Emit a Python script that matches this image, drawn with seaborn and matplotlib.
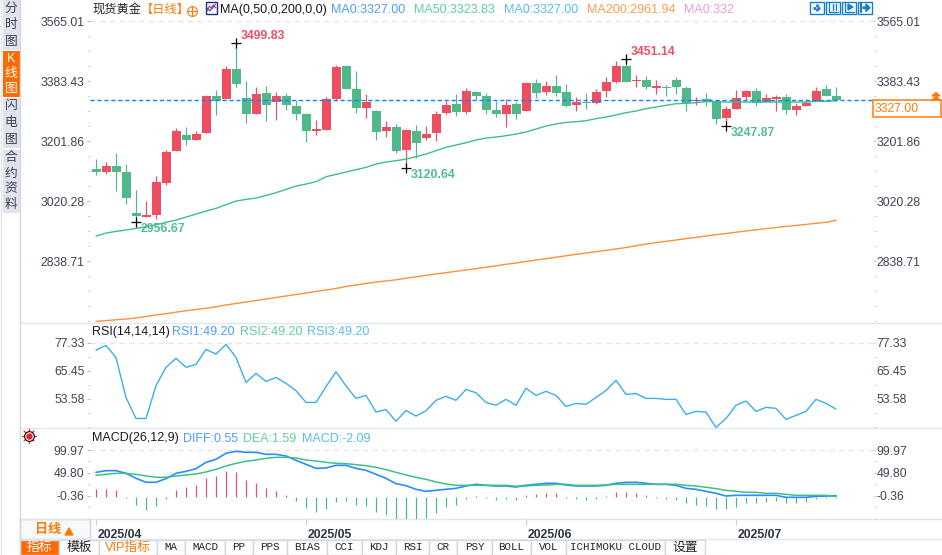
import numpy as np
import matplotlib
matplotlib.use("Agg")
import matplotlib.pyplot as plt
from matplotlib.patches import Rectangle, Polygon
from matplotlib.transforms import ScaledTranslation
import seaborn as sns

# ---------- data ----------
candle_top = [3117.0,3126.1,3126.1,3108.0,2983.8,2977.8,3077.7,3168.5,3232.1,3220.0,3223.0,3338.0,3338.0,3419.7,3419.7,3332.0,3344.1,3347.1,3338.0,3338.0,3307.7,3283.5,3238.1,
              3328.9,3425.8,3428.8,3359.2,3319.8,3292.6,3244.2,3244.2,3235.1,3232.1,3223.0,3283.5,3310.8,3313.8,3353.1,3350.1,3338.0,3295.6,3310.8,3313.8,3377.4,3377.4,3368.3,3368.3,3350.1,3319.8,3319.8,3350.1,3380.4,3428.8,3428.8,
              3386.4,3386.4,3368.3,3366.3,3386.4,3362.2,3325.9,3328.9,3322.9,3298.7,3332.0,3353.1,3353.1,3332.0,3335.0,3335.0,3307.7,3316.8,3353.1,3359.2,3338.0]
candle_bottom = [3109.0,3108.0,3108.0,3029.3,2974.8,2971.7,2977.8,3074.7,3171.5,3204.8,3204.8,3226.0,3322.9,3328.9,3374.3,3283.5,3283.5,3310.8,3319.8,3310.8,3283.5,3232.1,3232.1,
                 3235.1,3328.9,3359.2,3301.7,3301.7,3229.0,3232.1,3171.5,3174.6,3195.7,3210.9,3226.0,3286.5,3289.6,3289.6,3338.0,3295.6,3283.5,3283.5,3283.5,3292.6,3347.1,3350.1,3347.1,3307.7,3310.8,3316.8,3316.8,3353.1,3380.4,3380.4,
                 3383.4,3365.3,3362.2,3363.2,3365.3,3316.8,3322.9,3322.9,3268.4,3271.4,3298.7,3335.0,3316.8,3319.8,3328.9,3295.6,3295.6,3307.7,3322.9,3338.0,3327.0]
candle_high = [3147.3,3137.2,3165.5,3132.2,3053.5,3020.2,3095.8,3174.6,3241.1,3244.2,3232.1,3341.0,3356.2,3428.8,3499.83,3383.4,3365.3,3368.3,3350.1,3347.1,3325.9,3286.5,3265.4,
               3335.0,3431.8,3431.8,3413.7,3344.1,3295.6,3262.3,3253.3,3238.1,3250.2,3247.2,3292.6,3322.9,3344.1,3362.2,3353.1,3347.1,3322.9,3328.9,3319.8,3380.4,3389.5,3383.4,3401.6,3374.3,3335.0,3347.1,3359.2,3395.5,3444.0,3451.14,
               3401.6,3398.5,3386.4,3371.3,3395.5,3368.3,3335.0,3347.1,3325.9,3307.7,3356.2,3356.2,3362.2,3344.1,3341.0,3344.1,3316.8,3328.9,3365.3,3371.3,3365.3]
candle_low = [3098.9,3102.9,3050.4,3011.1,2956.67,2971.7,2965.7,3068.6,3171.5,3189.7,3204.8,3226.0,3280.5,3328.9,3365.3,3256.3,3283.5,3262.3,3265.4,3295.6,3265.4,3198.8,3220.0,
              3235.1,3322.9,3359.2,3286.5,3271.4,3204.8,3213.9,3165.5,3120.64,3150.3,3204.8,3201.8,3283.5,3277.5,3283.5,3325.9,3283.5,3274.4,3244.2,3268.4,3292.6,3332.0,3341.0,3338.0,3304.7,3292.6,3298.7,3313.8,3335.0,3377.4,3380.4,
              3365.3,3359.2,3344.1,3338.0,3344.1,3292.6,3310.8,3307.7,3253.3,3247.87,3298.7,3325.9,3307.7,3319.8,3292.6,3283.5,3280.5,3307.7,3322.9,3338.0,3322.9]
candle_rising = [0,1,0,0,0,1,1,1,1,0,1,1,0,1,0,0,1,0,1,0,0,0,1,
                 1,1,0,0,1,0,1,0,1,0,1,1,1,0,1,0,0,0,1,0,1,0,1,0,0,1,0,1,1,1,0,
                 1,0,1,0,0,0,1,0,0,1,1,1,0,1,1,0,1,1,1,0,0]
ma50 = [2914.2,2923.3,2928.4,2932.4,2937.4,2942.5,2948.5,2955.6,2962.7,2971.7,2980.8,2989.9,2998.0,3009.1,3020.2,3025.2,3029.3,3037.3,3045.4,3055.5,3065.6,3071.6,3078.7,
        3093.8,3100.9,3108.0,3115.0,3122.1,3132.2,3138.2,3142.3,3147.3,3154.4,3162.4,3172.5,3182.6,3189.7,3196.7,3204.8,3210.9,3213.9,3217.9,3223.0,3229.0,3238.1,3247.2,3253.3,3258.3,3260.3,3263.3,3269.4,3274.4,3280.5,3287.6,
        3292.6,3299.7,3304.7,3309.8,3314.8,3315.8,3317.8,3320.9,3320.9,3319.8,3319.8,3319.8,3319.8,3319.8,3319.8,3319.8,3319.8,3319.8,3321.9,3321.9,3323.83]
ma200 = [2656.3,2658.4,2660.9,2663.3,2666.3,2670.9,2675.4,2679.3,2683.9,2688.4,2692.0,2695.7,2700.2,2705.7,2710.2,2714.7,2719.2,2723.8,2728.3,2732.9,2737.4,2742.0,2746.5,2751.0,2755.6,2761.6,2766.2,2770.7,2775.2,2778.3,
         2781.9,2786.7,2790.9,2795.5,2799.4,2803.4,2807.6,2811.5,2815.8,2820.0,2824.2,2828.8,2832.7,2837.3,2841.8,2845.8,2850.3,2854.5,2859.0,2863.0,2866.9,2871.1,2875.1,2879.6,2885.1,2890.2,2894.2,2898.4,2902.3,2906.5,2910.5,2914.4,
         2918.4,2922.0,2925.9,2929.6,2933.2,2936.8,2940.1,2943.4,2946.5,2949.5,2952.9,2955.9,2961.94]
rsi = [74.1,76.2,71.0,54.1,45.2,45.2,59.1,66.9,70.7,66.9,68.1,74.5,72.5,76.6,71.1,60.5,64.3,60.9,62.6,60.1,57.0,52.0,52.0,
       58.7,65.0,59.0,53.7,55.0,47.9,49.0,44.0,48.6,46.2,48.5,52.9,54.6,52.9,57.5,56.1,52.0,50.8,53.3,50.8,58.0,55.0,56.7,55.0,50.3,51.6,51.2,54.1,57.1,61.4,55.4,
       55.8,53.7,53.7,53.3,53.3,46.9,48.2,47.9,41.4,45.2,50.8,52.6,48.2,49.9,49.5,44.8,46.5,48.2,53.3,51.6,49.2]
diff = [50.9,54.6,54.6,48.7,37.8,29.0,29.0,37.0,48.7,53.1,59.0,72.9,79.5,92.7,97.1,94.9,94.9,90.5,90.5,86.8,77.3,68.5,59.7,
        60.5,66.3,66.3,59.7,55.3,46.6,37.8,26.0,21.6,13.6,9.2,11.4,13.6,15.8,20.9,24.6,22.4,20.9,20.9,18.7,22.4,24.6,26.8,26.8,23.1,20.9,20.9,20.9,22.4,26.8,29.0,
        29.0,26.8,24.6,24.6,22.4,15.8,13.6,9.2,4.8,-1.1,0.4,0.4,0.4,0.4,0.4,-4.0,-4.0,-4.0,-1.8,-1.1,-0.4]
dea = [44.4,46.6,48.7,48.7,46.6,42.9,40.0,40.0,42.9,45.1,47.3,51.7,57.5,64.9,70.7,75.1,78.0,81.7,83.9,83.9,82.4,78.0,75.8,
       72.9,70.7,70.0,67.8,65.6,61.9,56.8,50.9,45.1,40.0,35.6,29.7,25.3,22.4,22.4,22.4,22.4,22.4,22.4,20.2,20.9,22.4,23.1,24.6,24.6,22.4,22.4,22.4,23.1,24.6,24.6,
       24.6,24.6,24.6,24.6,24.6,22.4,20.9,18.0,15.1,11.4,9.2,7.0,7.0,4.8,4.8,2.6,0.4,0.4,0.4,0.4,-1.8]
hist = [17.6,17.6,15.4,-1.5,-17.6,-28.6,-19.8,-4.4,15.4,22.0,26.4,41.7,46.1,57.1,54.9,37.3,30.8,19.8,13.2,4.4,-8.8,-24.2,-33.0,
        -26.4,-11.0,-8.8,-17.6,-19.8,-33.0,-39.5,-48.3,-48.3,-48.3,-46.1,-35.2,-22.0,-17.6,-4.4,2.2,-2.2,-6.6,-4.4,-6.6,4.4,6.6,8.8,8.8,-2.2,-4.4,-6.6,-4.4,2.2,11.0,11.0,
        8.8,4.4,-2.2,-4.4,-6.6,-13.2,-17.6,-19.8,-26.4,-26.4,-22.0,-13.2,-13.2,-11.0,-8.8,-13.2,-13.2,-11.0,-4.4,-2.2,-2.09]
main_ticks = [3565.01,3383.43,3201.86,3020.28,2838.71]
rsi_ticks = [77.33,65.45,53.58]
macd_ticks = [99.97,49.80,-0.36]
date_pos = [0,21,43,64]
date_labels = ["2025/04","2025/05","2025/06","2025/07"]
last_price = 3327.00
extremes = [(14,3499.83,"3499.83","r",1),(53,3451.14,"3451.14","r",1),(4,2956.67,"2956.67","g",-1),(31,3120.64,"3120.64","g",-1),(63,3247.87,"3247.87","g",-1)]
tabs = [("指标",20,59),("模板",59,99),("VIP指标",99,157),("MA",157,185),("MACD",185,225),("PP",225,253),("PPS",253,287),("BIAS",287,327),("CCI",327,362),("KDJ",362,396),("RSI",396,429),("CR",429,457),("PSY",457,492),("BOLL",492,531),("VOL",531,566),("ICHIMOKU CLOUD",566,665),("设置",665,705)]

# ---------- style ----------
sns.set_theme(style="white")
SANS = ["Liberation Sans", "Noto Sans CJK SC", "DejaVu Sans"]
plt.rcParams["font.family"] = SANS
RED, GREEN = "#ee4f60", "#4fb98a"
ORANGE = "#ff7a0a"
INK = "#3d4354"
W, H = 942, 555
idx = np.arange(len(ma50))
fig = plt.figure(figsize=(W/100, H/100), dpi=100, facecolor="white")

def place(top, bottom, left=90, right=874):
    return fig.add_axes([left/W, 1-bottom/H, (right-left)/W, (bottom-top)/H], facecolor="none", zorder=2)

def style(ax, ticks, minor):
    ax.set_xlim(-0.6, 77.8)
    for s in ax.spines.values():
        s.set_visible(False)
    ax.set_xticks([])
    ax.set_yticks(ticks)
    ax.set_yticklabels([f"{t:.2f}" for t in ticks])
    ax.set_yticks(minor, minor=True)
    ax.tick_params(axis="y", which="major", left=True, length=2, width=0.8, color="#b8b8b8", pad=2, labelsize=8.8, labelcolor=INK)
    ax.tick_params(axis="y", which="minor", left=True, length=1.2, width=0.8, color="#cccccc")
    tw = ax.twinx()
    tw.set_ylim(ax.get_ylim())
    for s in tw.spines.values():
        s.set_visible(False)
    tw.set_yticks(ticks)
    tw.set_yticklabels([f"{t:.2f}" for t in ticks])
    tw.set_yticks(minor, minor=True)
    tw.tick_params(axis="y", which="major", right=True, length=1, width=0.8, color="#b8b8b8", pad=0.8, labelsize=8.8, labelcolor=INK)
    tw.tick_params(axis="y", which="minor", right=True, length=1.2, width=0.8, color="#cccccc")
    tw.grid(False)
    ax.grid(False)
    ax.axhline(ticks[0], color="#e6e6e6", lw=1, ls=(0, (4, 3)), zorder=0)

# ---------- main panel ----------
ax = place(15, 323)
ax.set_ylim(2651.2, 3583.17)
style(ax, main_ticks, [3565.01-15.13*3*k for k in range(0, 21)])
cols = [RED if r else GREEN for r in candle_rising]
ax.vlines(idx, candle_low, candle_high, colors=cols, lw=0.85, zorder=3)
ax.bar(idx, np.array(candle_top)-np.array(candle_bottom), bottom=candle_bottom, width=0.9, color=cols, linewidth=0, zorder=4)
sns.lineplot(x=idx, y=ma50, ax=ax, color="#3fbf88", lw=1, estimator=None, sort=False, legend=False, zorder=5)
sns.lineplot(x=idx, y=ma200, ax=ax, color="#ff8f3f", lw=1, estimator=None, sort=False, legend=False, zorder=5)
ax.axhline(last_price, color="#0a84ff", lw=1, ls=(0, (3, 2)), zorder=6)
for i, v, txt, c, up in extremes:
    ax.plot([i], [v], marker="+", ms=7, mew=0.9, color="black", zorder=7)
    ax.annotate(txt, xy=(i, v), xytext=(5, 7*up), textcoords="offset pixels", va="center", ha="left",
                color=RED if c == "r" else "#52bd92", fontsize=8.8, fontweight="bold", zorder=8)
ax.set_xlabel(""); ax.set_ylabel("")

# ---------- RSI ----------
ar = place(323, 428)
ar.set_ylim(41.16, 85.68)
style(ar, rsi_ticks, [77.33-5.94*k for k in range(0, 7)])
sns.lineplot(x=idx, y=rsi, ax=ar, color="#3ab0e6", lw=1, estimator=None, sort=False, legend=False)
ar.set_xlabel(""); ar.set_ylabel("")

# ---------- MACD ----------
am = place(428, 519)
am.set_ylim(-51.6, 148.3)
style(am, macd_ticks, [99.97-25.08*k for k in range(0, 7)])
HIST_BASE = -3.3
h = np.array(hist)
am.vlines(idx, HIST_BASE, HIST_BASE+h, colors=[RED if v > 0 else "#45bb85" for v in h], lw=0.85, zorder=3)
sns.lineplot(x=idx, y=diff, ax=am, color="#2a8cff", lw=1.2, estimator=None, sort=False, legend=False, zorder=4)
sns.lineplot(x=idx, y=dea, ax=am, color="#3cc088", lw=1.1, estimator=None, sort=False, legend=False, zorder=5)
am.set_xlabel(""); am.set_ylabel("")
am.set_xticks(date_pos)
am.set_xticklabels(date_labels, ha="left", fontweight="bold", color="#2f3545", fontsize=8.8)
am.tick_params(axis="x", bottom=True, length=4, width=0.8, color="#c8d0d8", pad=3.5)
off = ScaledTranslation(2/100, 0, fig.dpi_scale_trans)
for lab in am.get_xticklabels():
    lab.set_transform(lab.get_transform()+off)

# ---------- chrome overlay (pixel coordinates) ----------
ov = fig.add_axes([0, 0, 1, 1], zorder=1, facecolor="none")
ov.set_xlim(0, W); ov.set_ylim(H, 0); ov.axis("off")
top = fig.add_axes([0, 0, 1, 1], zorder=5, facecolor="none")
top.set_xlim(0, W); top.set_ylim(H, 0); top.axis("off")

def rect(a, x0, y0, x1, y1, fc="none", ec="none", lw=1, z=1):
    a.add_patch(Rectangle((x0, y0), x1-x0, y1-y0, facecolor=fc, edgecolor=ec, linewidth=lw, zorder=z))

LINE = "#dfe7ec"
for y in (323, 428, 519, 539):
    ov.plot([20, W], [y, y], color=LINE, lw=1)
ov.plot([1, 1], [0, H], color=LINE, lw=1)
ov.plot([20, 20], [0, H], color="#cfd8e0", lw=1)

# left sidebar
for y0, y1, fc, chars, tc in [(0, 50, "#e0e3ec", "分时图", INK), (51, 97, "#ff6a00", "K线图", "white"),
                              (98, 148, "#e0e3ec", "闪电图", INK), (150, 213, "#e0e3ec", "合约资料", INK)]:
    rect(ov, 3, y0, 19.5, y1, fc=fc)
    n = len(chars)
    step = (y1-y0)/n
    for k, ch in enumerate(chars):
        ov.text(11, y0+step*(k+0.5), ch, ha="center", va="center", color=tc, fontsize=9.2)

# header texts
def header(x, y, s, c, **kw):
    top.text(x, y, s, color=c, ha="left", va="center", fontsize=kw.pop("fs", 9), **kw)

header(92, 10, "现货黄金", "#222222", fs=8.8)
header(141, 10, "【日线】", ORANGE, fs=8.8)
top.plot([192], [11], marker="o", ms=7, mfc="none", mec=ORANGE, mew=0.8)
top.plot([192], [11], marker="+", ms=7, color=ORANGE, mew=0.8)
rect(top, 205.5, 2, 217, 13.5, ec="#1c2a80", lw=1)
top.plot([207, 209.5, 212, 215.5], [11, 6, 9, 4], color="#d9304a", lw=0.8)
top.plot([207, 210, 213, 216], [8, 11, 5, 8], color="#2060c0", lw=0.8)
header(220, 10, "MA(0,50,0,200,0,0)", "#1a1a1a")
header(331, 10, "MA0:3327.00", "#4d9dff")
header(414, 10, "MA50:3323.83", "#63cf9f")
header(504, 10, "MA0:3327.00", "#5bbcf0")
header(587, 10, "MA200:2961.94", "#ff9b55")
header(684, 10, "MA0:332", "#ee9be0")
header(92, 332, "RSI(14,14,14)", "#1a1a1a")
header(172, 332, "RSI1:49.20", "#4d9dff")
header(240, 332, "RSI2:49.20", "#63cf9f")
header(307, 332, "RSI3:49.20", "#5bbcf0")
header(92, 438.5, "MACD(26,12,9)", "#1a1a1a")
header(183, 438.5, "DIFF:0.55", "#4d9dff")
header(242.5, 438.5, "DEA:1.59", "#63cf9f")
header(302, 438.5, "MACD:-2.09", "#5bbcf0")

# top-right icon buttons
BLUE = "#1580c8"
for x0 in (810, 826, 842, 858):
    rect(top, x0, 1.5, x0+13.5, 14, ec=BLUE, lw=1, fc="white")
top.plot([813, 821], [7.8, 7.8], color=BLUE, lw=2, ls=(0, (1, 0.5)))
top.plot([817, 817], [4, 12], color=BLUE, lw=2, ls=(0, (1, 0.5)))
top.plot([829, 829, 838], [3, 12, 12], color=BLUE, lw=1)
top.plot([833, 833], [4, 10], color=BLUE, lw=1)
top.plot([836, 836], [4, 10], color=BLUE, lw=1)
top.plot([845, 845, 854], [3, 12, 12], color=BLUE, lw=1)
top.add_patch(Polygon([[848, 4], [848, 10], [853, 7]], color=BLUE))
top.plot([861, 861], [3, 12], color=BLUE, lw=1.5)
top.add_patch(Polygon([[863, 7], [866, 7], [866, 4], [870, 7.7], [866, 11.5], [866, 8.5], [863, 8.5]], color=BLUE))

# last price box and arrow
rect(top, 872.5, 100, 940.5, 117, fc="white", ec=ORANGE, lw=1.1)
top.text(875, 109, "3327.00", color=ORANGE, ha="left", va="center", fontsize=8.8)
top.add_patch(Polygon([[932, 96], [936, 92.5], [940, 96]], color=ORANGE))
top.add_patch(Polygon([[932, 100], [936, 96.5], [940, 100]], color=ORANGE))

# indicator marker
cx, cy = 29, 436
for a in np.deg2rad(np.arange(0, 360, 45)):
    top.plot([cx+4.5*np.cos(a), cx+7*np.cos(a)], [cy+4.5*np.sin(a), cy+7*np.sin(a)], color="#ee2020", lw=0.9)
top.plot([cx], [cy], marker="o", ms=7, mfc="white", mec="black", mew=0.8)
top.plot([cx], [cy], marker="o", ms=3.6, mfc="#ee2020", mec="#ee2020")

# bottom strip
rect(ov, 20, 519, 90, 539, fc="#f7f9fb", ec="#cfd8e0", lw=1)
ov.text(35, 530, "日线", color=ORANGE, fontsize=9.4, fontweight="bold", ha="left", va="center")
ov.add_patch(Polygon([[65, 535], [69, 528], [73, 535]], color=ORANGE))

for name, x0, x1 in tabs:
    active = name == "指标"
    rect(ov, x0, 540, x1, 555, fc="#ff6a00" if active else "white", ec="#cfd8e0", lw=1)
    cjk = any(ord(c) > 127 for c in name)
    ov.text((x0+x1)/2, 547.5, name,
            color="white" if active else (ORANGE if "VIP" in name else "#222222"),
            ha="center", va="center", fontsize=9.2 if cjk else 7.8,
            family=SANS if cjk else ["Liberation Mono", "DejaVu Sans Mono"])

fig.savefig("out.png", dpi=100)
